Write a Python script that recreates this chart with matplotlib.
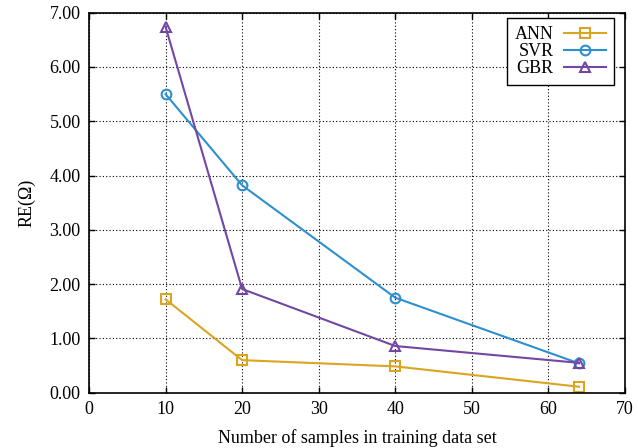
import matplotlib
matplotlib.use("Agg")
import matplotlib.pyplot as plt

# Data
samples = [10, 20, 40, 64]
ann = [1.72, 0.60, 0.485, 0.11]
svr = [5.50, 3.82, 1.75, 0.54]
gbr = [6.74, 1.91, 0.86, 0.55]

x_ticks = [0, 10, 20, 30, 40, 50, 60, 70]
y_ticks = [0, 1, 2, 3, 4, 5, 6, 7]

plt.rcParams['font.family'] = ['Liberation Serif', 'DejaVu Serif']
plt.rcParams['font.size'] = 13

fig = plt.figure(figsize=(6.38, 4.48), dpi=100)
ax = fig.add_axes([0.1395, 0.1234, 0.8401, 0.8483])

ax.plot(samples, ann, color='#DAA520', marker='s', mfc='none', mew=1.5,
        ms=7, lw=1.5, label='ANN')
ax.plot(samples, svr, color='#2E8FCF', marker='o', mfc='none', mew=1.5,
        ms=7, lw=1.5, label='SVR')
ax.plot(samples, gbr, color='#7247A3', marker='^', mfc='none', mew=1.5,
        ms=7, lw=1.5, label='GBR')

ax.set_xlim(0, 70)
ax.set_ylim(0, 7)
ax.set_xticks(x_ticks)
ax.set_yticks(y_ticks)
ax.set_yticklabels([f"{v:.2f}" for v in y_ticks])
ax.tick_params(direction='in', top=True, right=True, length=4, width=1, pad=6)
ax.grid(True, color='black', linestyle=(0, (1, 2)), linewidth=0.8)
for s in ax.spines.values():
    s.set_linewidth(1.2)

ax.set_xlabel("Number of samples in training data set", labelpad=8)
ax.set_ylabel("RE(Ω)", labelpad=10)

leg = ax.legend(loc='upper right', bbox_to_anchor=(0.9624, 0.9598),
                bbox_transform=fig.transFigure, markerfirst=False,
                fancybox=False, framealpha=1, edgecolor='black',
                handlelength=2.3, borderaxespad=0, labelspacing=0.0,
                handletextpad=0.6, borderpad=0.45, fontsize=13)
leg.get_frame().set_linewidth(1.0)

fig.savefig("out.png", dpi=100)
